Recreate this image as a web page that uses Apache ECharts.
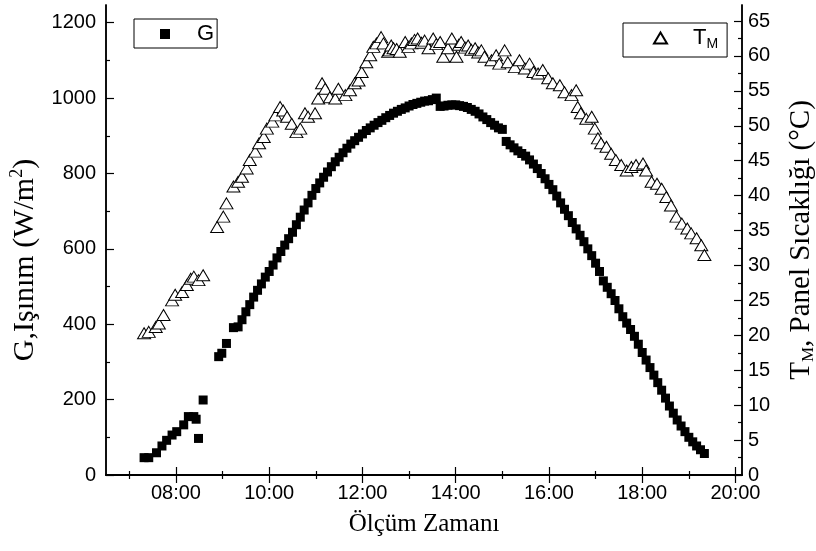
<!DOCTYPE html>
<html><head><meta charset="utf-8">
<script src="https://cdn.jsdelivr.net/npm/echarts@6/dist/echarts.min.js"></script>
<style>html,body{margin:0;padding:0;background:#fff}#c{width:816px;height:551px}</style>
</head><body><div id="c"></div><script>
// ---- data ----
const gTimes = [
 '07:19','07:25','07:35','07:42','07:48','07:55','08:01','08:10','08:16','08:23','08:26','08:29','08:35',
 '08:55','08:59','09:05','09:14','09:20','09:25','09:30','09:35','09:40','09:45','09:50','09:55',
 '10:00','10:05','10:10','10:15','10:20','10:25','10:30','10:35','10:40','10:45','10:50','10:55',
 '11:00','11:05','11:10','11:15','11:20','11:25','11:30','11:35','11:40','11:45','11:50','11:55',
 '12:00','12:05','12:10','12:15','12:20','12:25','12:30','12:35','12:40','12:45','12:50','12:55',
 '13:00','13:05','13:10','13:15','13:20','13:25','13:30','13:35','13:40','13:45','13:50','13:55',
 '14:00','14:05','14:10','14:15','14:20','14:25','14:30','14:35','14:40','14:45','14:50','14:55',
 '15:00','15:05','15:10','15:15','15:20','15:25','15:30','15:35','15:40','15:45','15:50','15:55',
 '16:00','16:05','16:10','16:15','16:20','16:25','16:30','16:35','16:40','16:45','16:50','16:55',
 '17:00','17:05','17:10','17:15','17:20','17:25','17:30','17:35','17:40','17:45','17:50','17:55',
 '18:00','18:05','18:10','18:15','18:20','18:25','18:30','18:35','18:40','18:45','18:50','18:55',
 '19:00','19:05','19:10','19:15','19:20'
];
const gValues = [
 46,46,59,77,92,106,115,133,155,155,148,97,199,
 314,323,349,391,393,412,433,452,472,490,507,525,
 540,557,576,593,610,627,644,664,684,703,722,742,
 760,775,790,804,818,831,843,855,867,878,887,896,
 905,914,921,928,935,941,948,954,960,965,970,974,
 979,983,986,989,992,993,996,1000,978,979,981,982,
 982,980,978,975,970,965,958,950,943,935,928,921,
 917,885,876,868,860,853,846,836,825,813,800,786,
 771,757,740,722,705,688,670,653,636,619,600,582,
 562,540,515,498,481,463,441,420,403,386,368,347,
 325,305,285,265,245,225,204,183,164,146,130,115,
 100,88,77,67,57
];
const tTimes = [
 '07:19','07:25','07:34','07:38','07:44','07:55','07:59','08:08','08:14','08:19','08:23','08:29','08:35',
 '08:53','09:01','09:05','09:14','09:20','09:25','09:31','09:35','09:42','09:47','09:53','09:57',
 '10:04','10:08','10:14','10:18','10:23','10:29','10:35','10:40','10:46','10:50','10:59',
 '11:03','11:08','11:12','11:18','11:25','11:29','11:38','11:44','11:50','11:55','11:59',
 '12:05','12:10','12:14','12:18','12:24','12:27','12:33','12:35','12:37','12:40','12:44','12:48','12:55','12:59',
 '13:03','13:07','13:11','13:16','13:20','13:25','13:31','13:35','13:40','13:44','13:50','13:55',
 '14:01','14:04','14:07','14:12','14:16','14:20','14:25','14:29','14:33','14:37','14:46','14:52','14:56',
 '15:03','15:07','15:16','15:22','15:29','15:35','15:40','15:46','15:52','15:59',
 '16:05','16:14','16:20','16:29','16:35','16:37','16:41','16:48','16:55','16:59',
 '17:03','17:07','17:14','17:20','17:26','17:33','17:40','17:46','17:52',
 '18:01','18:05','18:12','18:19','18:25','18:31','18:37','18:44','18:51','18:58',
 '19:03','19:10','19:16','19:20'
];
const tValues = [
 20.3,20.5,21.2,21.7,22.9,25.0,25.8,26.2,27.2,28.1,28.4,27.9,28.6,
 35.5,37.0,38.9,41.3,42.0,42.7,43.9,45.1,46.3,47.5,48.4,49.6,
 50.6,51.5,52.7,52.2,51.3,50.3,49.1,49.6,51.8,51.3,51.8,
 53.9,56.1,55.3,54.1,53.9,55.3,54.4,55.1,56.1,56.5,57.7,
 59.1,60.1,61.3,61.8,62.7,61.8,60.6,60.8,61.5,61.1,61.0,60.6,62.0,61.3,
 61.8,62.3,62.5,61.9,62.2,61.1,62.5,61.7,62.0,59.9,61.1,62.5,
 59.9,61.6,62.0,61.2,61.5,60.9,61.1,60.5,60.8,59.9,59.4,60.1,58.9,
 60.8,59.1,58.4,59.4,58.2,58.9,57.7,57.5,58.0,56.8,
 56.1,55.8,54.8,54.4,55.1,52.7,51.8,51.0,51.3,49.6,
 48.2,47.5,47.0,46.0,45.1,44.4,43.6,44.1,44.4,
 44.6,43.6,42.0,41.7,41.0,39.8,38.6,37.0,36.0,35.3,
 34.6,33.9,32.9,31.5
];
const xMajorTicks = [8, 10, 12, 14, 16, 18, 20];
const xMinorTicks = [7, 9, 11, 13, 15, 17, 19];
const gMajorTicks = [0, 200, 400, 600, 800, 1000, 1200];
const gMinorTicks = [100, 300, 500, 700, 900, 1100];
const tMajorTicks = [0, 5, 10, 15, 20, 25, 30, 35, 40, 45, 50, 55, 60, 65];
const tMinorTicks = [2.5, 7.5, 12.5, 17.5, 22.5, 27.5, 32.5, 37.5, 42.5, 47.5, 52.5, 57.5, 62.5];

// ---- helpers ----
const toH = s => { const p = s.split(':'); return +p[0] + (+p[1]) / 60; };
const fmtH = v => (v < 10 ? '0' : '') + v + ':00';
const fmtN = v => String(v);
const SANS = 'Liberation Sans', SERIF = 'Liberation Serif';
const LINE = { show: true, lineStyle: { color: '#000', width: 1.5 } };

function xAx(pos, ticks, len, labels) {
  return {
    type: 'value', position: pos, min: 6.5, max: 20.14,
    axisLine: LINE, splitLine: { show: false },
    axisTick: { show: true, inside: true, length: len, customValues: ticks, lineStyle: { color: '#000', width: 1.2 } },
    axisLabel: labels ? { show: true, customValues: ticks, formatter: fmtH, fontFamily: SANS, fontSize: 20, color: '#000', margin: 8 } : { show: false }
  };
}
function yAx(pos, max, ticks, len, labels, margin) {
  return {
    type: 'value', position: pos, min: 0, max: max,
    axisLine: LINE, splitLine: { show: false },
    axisTick: { show: true, inside: true, length: len, customValues: ticks, lineStyle: { color: '#000', width: 1.2 } },
    axisLabel: labels ? { show: true, customValues: ticks, formatter: fmtN, fontFamily: SANS, fontSize: 20, color: '#000', margin: margin } : { show: false }
  };
}

const xMain = xAx('bottom', xMajorTicks, 8, true);
xMain.name = 'Ölçüm Zamanı';
xMain.nameLocation = 'middle';
xMain.nameGap = 37;
xMain.nameTextStyle = { fontFamily: SERIF, fontSize: 25, color: '#000' };

const yLeft = yAx('left', 1247, gMajorTicks, 8, true, 10);
yLeft.name = '{t|G,Işınım (W/m}{sup|2}{t|)}';
yLeft.nameLocation = 'middle';
yLeft.nameRotate = 90;
yLeft.nameGap = 59;
yLeft.nameTextStyle = { color: '#000', padding: [0, 40, 0, 0], rich: {
  t: { fontFamily: SERIF, fontSize: 30, color: '#000', lineHeight: 34 },
  sup: { fontFamily: SERIF, fontSize: 18, color: '#000', verticalAlign: 'top', lineHeight: 34 } } };

const yRight = yAx('right', 67.3, tMajorTicks, 8, true, 6);
yRight.name = '{t|T}{s|M}{t|, Panel Sıcaklığı (°C)}';
yRight.nameLocation = 'middle';
yRight.nameRotate = 90;
yRight.nameGap = 43;
yRight.nameTextStyle = { color: '#000', rich: {
  t: { fontFamily: SERIF, fontSize: 29, color: '#000', lineHeight: 32 },
  s: { fontFamily: SERIF, fontSize: 17, color: '#000', verticalAlign: 'bottom', lineHeight: 17 } } };

const option = {
  backgroundColor: '#fff',
  animation: false,
  grid: { left: 106, right: 74, top: 5, bottom: 76, containLabel: false, outerBoundsMode: 'none' },
  legend: [
    { data: ['G'], left: 134, top: 19, icon: 'rect', itemWidth: 10, itemHeight: 10,
      borderColor: '#000', borderWidth: 1, padding: [4, 3, 3, 26], borderRadius: 0,
      textStyle: { fontFamily: SANS, fontSize: 22, color: '#000', padding: [0, 0, 0, 22] } },
    { data: ['TM'], left: 623, top: 23, icon: 'triangle', itemWidth: 13, itemHeight: 11,
      borderColor: '#000', borderWidth: 1, padding: [4, 9, 6, 30], borderRadius: 0,
      formatter: () => '{t|T}{s|M}',
      textStyle: { color: '#000', padding: [0, 0, 0, 21], rich: {
        t: { fontFamily: SANS, fontSize: 22, color: '#000', lineHeight: 26 },
        s: { fontFamily: SANS, fontSize: 14, color: '#000', verticalAlign: 'bottom', lineHeight: 14 } } } }
  ],
  xAxis: [ xMain, xAx('bottom', xMinorTicks, 4, false), xAx('top', xMajorTicks, 8, false), xAx('top', xMinorTicks, 4, false) ],
  yAxis: [ yLeft, yAx('left', 1247, gMinorTicks, 4, false, 0), yRight, yAx('right', 67.3, tMinorTicks, 4, false, 0) ],
  series: [
    { name: 'G', type: 'scatter', xAxisIndex: 0, yAxisIndex: 0, symbol: 'rect', symbolSize: 9,
      itemStyle: { color: '#000', opacity: 1 },
      data: gTimes.map((t, i) => [toH(t), gValues[i]]) },
    { name: 'TM', type: 'scatter', xAxisIndex: 0, yAxisIndex: 2, symbol: 'triangle', symbolSize: [13, 11],
      itemStyle: { color: '#fff', borderColor: '#000', borderWidth: 1, opacity: 1 },
      data: tTimes.map((t, i) => [toH(t), tValues[i]]) }
  ]
};
const chart = echarts.init(document.getElementById('c'), null, { renderer: 'canvas' });
chart.setOption(option);
</script></body></html>
